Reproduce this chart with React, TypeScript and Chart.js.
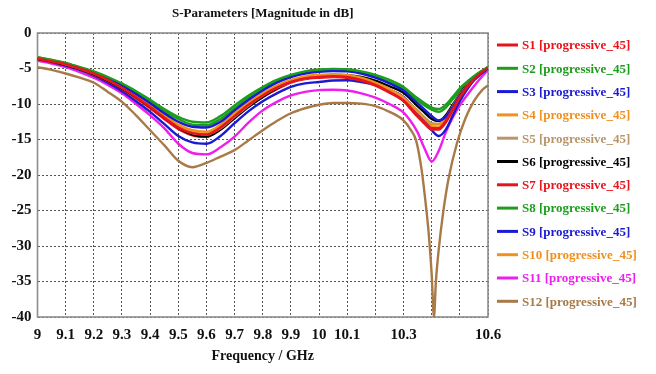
import React, { useEffect, useRef } from 'react';
import { Chart, registerables } from 'chart.js';

Chart.register(...registerables);

const FONT = '"Liberation Serif", "Times New Roman", serif';

// Frequency samples (GHz)
const freq = [9.0, 9.05, 9.1, 9.15, 9.2, 9.25, 9.3, 9.35, 9.4, 9.45, 9.5, 9.55, 9.6, 9.65, 9.7, 9.75, 9.8, 9.85, 9.9, 9.95, 10.0, 10.05, 10.1, 10.15, 10.2, 10.25, 10.3, 10.325, 10.35, 10.375, 10.4, 10.425, 10.45, 10.475, 10.5, 10.525, 10.55, 10.575, 10.6];
const freqS12 = [9.0, 9.05, 9.1, 9.15, 9.2, 9.25, 9.3, 9.35, 9.4, 9.45, 9.5, 9.55, 9.6, 9.65, 9.7, 9.75, 9.8, 9.85, 9.9, 9.95, 10.0, 10.05, 10.1, 10.15, 10.2, 10.25, 10.3, 10.325, 10.345, 10.365, 10.38, 10.39, 10.4, 10.408, 10.415, 10.425, 10.44, 10.46, 10.49, 10.52, 10.55, 10.58, 10.6];

// Magnitudes (dB)
const s1 = [-3.6, -4.0, -4.4, -5.0, -5.7, -6.6, -7.7, -9.0, -10.4, -11.9, -13.3, -14.1, -14.3, -13.3, -11.7, -10.1, -8.8, -7.7, -6.9, -6.4, -6.2, -6.1, -6.2, -6.6, -7.3, -8.3, -9.5, -10.5, -11.6, -12.6, -13.4, -13.4, -12.4, -10.7, -9.0, -7.6, -6.5, -5.6, -4.9];
const s2 = [-3.4, -3.8, -4.2, -4.8, -5.4, -6.2, -7.1, -8.2, -9.4, -10.7, -11.8, -12.5, -12.6, -11.7, -10.2, -8.8, -7.6, -6.6, -5.9, -5.4, -5.15, -5.05, -5.1, -5.4, -5.9, -6.6, -7.6, -8.4, -9.2, -9.9, -10.5, -10.7, -10.1, -9.0, -7.8, -6.9, -6.1, -5.4, -4.8];
const s3 = [-3.5, -3.9, -4.3, -4.9, -5.6, -6.4, -7.4, -8.6, -9.9, -11.3, -12.5, -13.2, -13.3, -12.5, -10.9, -9.4, -8.1, -7.0, -6.2, -5.7, -5.45, -5.35, -5.4, -5.7, -6.3, -7.1, -8.1, -9.0, -9.9, -10.8, -11.7, -12.3, -11.8, -10.4, -8.8, -7.5, -6.4, -5.6, -4.9];
const s4 = [-3.4, -3.8, -4.3, -4.9, -5.6, -6.5, -7.6, -8.8, -10.1, -11.6, -12.9, -13.7, -13.9, -12.9, -11.3, -9.8, -8.5, -7.4, -6.6, -6.1, -5.9, -5.8, -5.9, -6.3, -7.0, -7.9, -9.1, -10.1, -11.1, -12.1, -12.9, -12.9, -11.9, -10.3, -8.7, -7.4, -6.3, -5.5, -4.8];
const s5 = [-3.5, -3.9, -4.4, -5.0, -5.7, -6.6, -7.7, -8.9, -10.3, -11.8, -13.2, -14.1, -14.3, -13.4, -11.8, -10.2, -8.8, -7.7, -6.9, -6.4, -6.15, -6.05, -6.1, -6.45, -7.1, -8.0, -9.1, -10.0, -10.9, -11.9, -12.7, -12.8, -12.0, -10.5, -8.9, -7.5, -6.4, -5.5, -4.8];
const s6 = [-3.6, -4.0, -4.5, -5.1, -5.8, -6.7, -7.8, -9.0, -10.4, -11.9, -13.3, -14.3, -14.6, -13.6, -12.0, -10.4, -9.0, -7.8, -6.9, -6.3, -6.0, -5.9, -5.95, -6.2, -6.7, -7.5, -8.4, -9.3, -10.3, -11.2, -12.1, -12.4, -11.6, -10.1, -8.6, -7.3, -6.3, -5.5, -4.9];
const s7 = [-3.7, -4.1, -4.5, -5.1, -5.9, -6.8, -7.9, -9.2, -10.6, -12.1, -13.5, -14.4, -14.6, -13.6, -11.9, -10.3, -9.0, -7.9, -7.0, -6.5, -6.3, -6.2, -6.3, -6.7, -7.4, -8.4, -9.6, -10.7, -11.8, -12.8, -13.6, -13.6, -12.6, -10.9, -9.1, -7.7, -6.5, -5.6, -4.9];
const s8 = [-3.5, -3.9, -4.3, -4.9, -5.5, -6.3, -7.3, -8.4, -9.7, -11.0, -12.1, -12.9, -13.0, -12.1, -10.6, -9.1, -7.9, -6.8, -6.1, -5.6, -5.35, -5.25, -5.3, -5.6, -6.1, -6.9, -7.9, -8.7, -9.5, -10.2, -10.8, -11.1, -10.5, -9.3, -8.1, -7.1, -6.2, -5.5, -4.9];
const s9 = [-3.7, -4.1, -4.6, -5.2, -6.0, -7.0, -8.2, -9.6, -11.1, -12.8, -14.5, -15.4, -15.6, -14.5, -12.7, -11.0, -9.6, -8.5, -7.6, -7.1, -6.9, -6.7, -6.65, -6.9, -7.3, -8.0, -9.0, -10.0, -11.2, -12.4, -13.7, -14.5, -13.6, -11.6, -9.6, -8.0, -6.7, -5.8, -5.0];
const s10 = [-3.4, -3.8, -4.3, -5.0, -5.7, -6.6, -7.7, -8.9, -10.3, -11.8, -13.2, -14.0, -14.2, -13.2, -11.6, -10.0, -8.7, -7.6, -6.8, -6.3, -6.05, -5.95, -6.0, -6.4, -7.1, -8.0, -9.2, -10.2, -11.3, -12.3, -13.2, -13.3, -12.3, -10.6, -8.9, -7.5, -6.4, -5.5, -4.8];
const s11 = [-3.9, -4.3, -4.8, -5.5, -6.3, -7.3, -8.5, -10.0, -11.6, -13.4, -15.6, -16.9, -17.1, -16.1, -14.6, -12.6, -10.9, -9.7, -8.8, -8.3, -8.05, -8.0, -8.1, -8.5, -9.1, -10.0, -11.2, -12.4, -14.0, -16.3, -18.1, -16.6, -14.0, -11.9, -10.2, -8.8, -7.5, -6.3, -5.2];
const s12 = [-4.8, -5.2, -5.7, -6.3, -7.0, -8.3, -9.7, -11.6, -13.7, -15.8, -18.0, -18.9, -18.3, -17.4, -16.5, -15.1, -13.7, -12.4, -11.3, -10.6, -10.1, -9.85, -9.85, -9.95, -10.3, -11.1, -12.3, -13.6, -15.2, -19.5, -24.5, -28.5, -34.0, -40.0, -35.0, -30.5, -25.5, -20.5, -15.5, -12.0, -9.6, -8.0, -7.4];

const seriesValues = [s1, s2, s3, s4, s5, s6, s7, s8, s9, s10, s11, s12];
const seriesNames = ['S1 [progressive_45]', 'S2 [progressive_45]', 'S3 [progressive_45]', 'S4 [progressive_45]', 'S5 [progressive_45]', 'S6 [progressive_45]', 'S7 [progressive_45]', 'S8 [progressive_45]', 'S9 [progressive_45]', 'S10 [progressive_45]', 'S11 [progressive_45]', 'S12 [progressive_45]'];
const seriesColors = ['#e8141c', '#1c9e1c', '#1a1ad2', '#f0901e', '#b8956a', '#000000', '#e8141c', '#1c9e1c', '#1a1ad2', '#f0901e', '#ee1eee', '#a87a48'];

const xTickValues = [9, 9.1, 9.2, 9.3, 9.4, 9.5, 9.6, 9.7, 9.8, 9.9, 10, 10.1, 10.2, 10.3, 10.4, 10.5, 10.6];
const xTickLabels = ['9', '9.1', '9.2', '9.3', '9.4', '9.5', '9.6', '9.7', '9.8', '9.9', '10', '10.1', '', '10.3', '', '', '10.6'];

const TITLE = 'S-Parameters [Magnitude in dB]';
const X_TITLE = 'Frequency / GHz';

export default function App() {
  const ref = useRef<HTMLCanvasElement>(null);

  useEffect(() => {
    if (!ref.current) return;

    const decor = {
      id: 'decor',
      beforeDatasetsDraw(chart: any) {
        const { ctx, chartArea: a } = chart;
        ctx.save();
        ctx.strokeStyle = '#8e8e8e';
        ctx.lineWidth = 1.6;
        ctx.strokeRect(a.left, a.top, a.right - a.left, a.bottom - a.top);
        ctx.restore();
      },
      afterDraw(chart: any) {
        const { ctx, chartArea: a } = chart;
        ctx.save();
        ctx.fillStyle = '#111';
        ctx.font = `bold 13px ${FONT}`;
        ctx.textAlign = 'center';
        ctx.textBaseline = 'middle';
        ctx.fillText(TITLE, (a.left + a.right) / 2, 14);

        ctx.textAlign = 'left';
        ctx.font = `bold 13px ${FONT}`;
        const x0 = a.right + 9;
        seriesNames.forEach((name, i) => {
          const y = 45 + i * 23.3;
          ctx.strokeStyle = seriesColors[i];
          ctx.lineWidth = 3;
          ctx.beginPath();
          ctx.moveTo(x0, y);
          ctx.lineTo(x0 + 21, y);
          ctx.stroke();
          ctx.fillStyle = seriesColors[i];
          ctx.fillText(name, x0 + 25, y + 1);
        });
        ctx.restore();
      },
    };

    const chart = new Chart(ref.current, {
      type: 'line',
      data: {
        datasets: seriesValues.map((vals, i) => ({
          label: seriesNames[i],
          data: (i === 11 ? freqS12 : freq).map((f, j) => ({ x: f, y: vals[j] })),
          borderColor: seriesColors[i],
          backgroundColor: seriesColors[i],
          borderWidth: 2.4,
          pointRadius: 0,
          fill: false,
          cubicInterpolationMode: 'monotone' as const,
        })),
      },
      options: {
        responsive: false,
        animation: false,
        layout: { padding: { left: 0, right: 168, top: 33, bottom: 0 } },
        plugins: {
          legend: { display: false },
          title: { display: false },
          tooltip: { enabled: false },
        },
        scales: {
          x: {
            type: 'linear',
            min: 9,
            max: 10.6,
            afterBuildTicks: (s: any) => {
              s.ticks = xTickValues.map((v) => ({ value: v }));
            },
            afterFit: (s: any) => {
              s.height = 57;
            },
            ticks: {
              autoSkip: false,
              maxRotation: 0,
              callback: (_v: any, i: number) => xTickLabels[i],
              font: { family: FONT, size: 15, weight: 'bold' },
              color: '#111',
              padding: 9,
            },
            grid: { color: '#555', lineWidth: 1, drawTicks: false },
            border: { display: false, dash: [2, 2] },
            title: {
              display: true,
              text: X_TITLE,
              font: { family: FONT, size: 14, weight: 'bold' },
              color: '#111',
              padding: { top: 0, bottom: 9 },
            },
          },
          y: {
            min: -40,
            max: 0,
            afterFit: (s: any) => {
              s.width = 37.5;
            },
            ticks: {
              stepSize: 5,
              callback: (v: any) => String(v),
              font: { family: FONT, size: 15, weight: 'bold' },
              color: '#111',
              padding: 6,
            },
            grid: { color: '#555', lineWidth: 1, drawTicks: false },
            border: { display: false, dash: [2, 2] },
          },
        },
      } as any,
      plugins: [decor],
    });

    return () => chart.destroy();
  }, []);

  return (
    <div style={{ position: 'absolute', left: 0, top: 0, width: 656, height: 374, background: '#fff' }}>
      <canvas ref={ref} width={656} height={374} style={{ display: 'block', width: 656, height: 374 }} />
    </div>
  );
}
